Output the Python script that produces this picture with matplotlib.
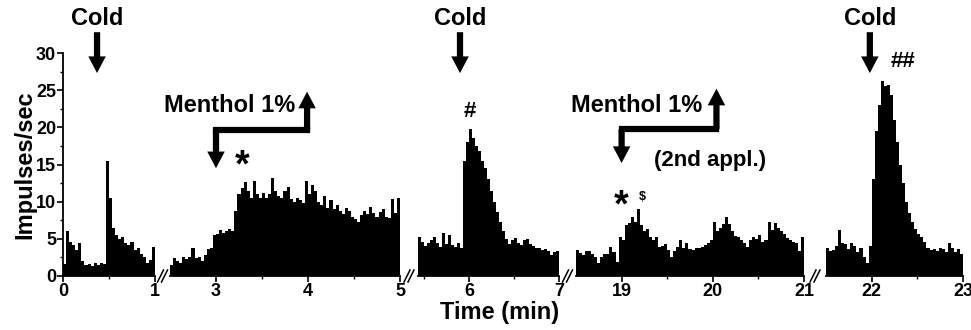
import numpy as np
import matplotlib.pyplot as plt
from matplotlib.lines import Line2D

plt.rcParams['font.family'] = ['Liberation Sans', 'DejaVu Sans']
plt.rcParams['font.weight'] = 'bold'

# firing rate histogram, 2 s bins (time in minutes)
bin_w = 1 / 30
seg_start = [0.0, 2.5, 5 + 13 / 30, 18.5, 21.5]
seg_end = [1, 5, 7, 21, 23]

rate_a = [1.6, 6.0, 4.6, 4.2, 3.5, 4.5, 2.0, 1.5, 1.6, 1.4, 1.8, 1.5, 1.7, 1.6, 15.5,
          10.5, 6.5, 5.5, 5.0, 5.2, 4.5, 4.2, 4.6, 3.5, 3.8, 3.0, 2.6, 1.8, 2.2, 3.9]
rate_b = [1.5, 2.4, 2.0, 1.7, 2.6, 2.3, 2.5, 3.8, 2.4, 2.6, 2.0, 2.8, 3.6, 3.7, 5.5,
          5.6, 6.2, 5.8, 6.0, 6.3, 6.0, 8.7, 11.0, 11.8, 12.7, 11.5, 10.5, 12.8, 11.0, 10.5,
          11.2, 10.5, 11.0, 13.2, 11.5, 10.8, 10.5, 11.5, 12.0, 10.3, 10.0, 10.5, 10.2, 9.8, 12.8,
          11.0, 12.3, 11.5, 10.0, 9.5, 10.8, 9.2, 10.2, 9.0, 9.5, 8.7, 8.4, 9.2, 8.7, 8.0,
          7.7, 7.3, 8.2, 8.8, 8.3, 9.3, 8.5, 8.0, 8.6, 9.0, 8.0, 7.8, 10.3, 8.5, 10.5]
rate_c = [5.2, 4.6, 4.0, 4.4, 4.8, 5.2, 4.4, 3.9, 5.8, 4.3, 5.5, 4.2, 3.9, 4.5, 3.8,
          15.5, 18.0, 19.8, 18.5, 17.5, 16.8, 15.5, 14.5, 13.0, 11.5, 10.0, 8.6, 7.2, 6.0, 5.0,
          4.3, 4.9, 5.1, 4.4, 4.2, 4.8, 5.0, 4.3, 4.0, 3.7, 3.8, 3.5, 3.6, 3.4, 2.8,
          3.2, 3.4]
rate_d = [3.5, 3.1, 2.8, 3.3, 3.4, 3.0, 2.6, 1.8, 2.5, 2.9, 3.0, 3.9, 3.2, 1.9, 5.3,
          4.8, 6.8, 7.1, 8.0, 7.2, 9.0, 6.8, 6.0, 6.3, 5.2, 4.8, 5.2, 3.9, 4.0, 4.3,
          3.5, 2.6, 3.3, 3.9, 4.8, 3.8, 4.4, 3.6, 3.5, 3.7, 3.8, 3.9, 4.2, 4.5, 4.8,
          7.2, 6.0, 6.4, 7.0, 8.0, 7.0, 6.0, 5.4, 5.2, 4.9, 4.4, 3.9, 4.8, 5.3, 5.0,
          5.5, 4.6, 4.8, 7.3, 6.2, 7.1, 6.4, 6.0, 5.7, 5.1, 4.9, 4.6, 4.4, 3.3, 5.3]
rate_e = [3.8, 3.4, 3.5, 4.0, 6.2, 4.5, 4.3, 3.6, 4.5, 4.0, 3.2, 3.8, 2.6, 1.8, 4.0,
          13.0, 19.5, 23.0, 26.3, 25.5, 25.7, 24.3, 21.0, 18.0, 15.0, 12.5, 10.0, 8.5, 7.3, 6.3,
          5.7, 5.3, 4.6, 3.8, 3.5, 3.6, 3.4, 3.7, 3.6, 3.2, 4.4, 3.7, 3.2, 3.6, 3.0]
rates = [rate_a, rate_b, rate_c, rate_d, rate_e]

major_ticks = [[0, 1], [3, 4, 5], [6, 7], [19, 20, 21], [22, 23]]
minor_ticks = [[0.5], [3.5, 4.5], [5.5, 6.5], [19.5, 20.5], [22.5]]

W, H = 971, 330
ax_px = [(63, 155), (170, 400), (418, 559), (576, 804), (826, 963)]
top_px, bot_px = 53, 276

fig = plt.figure(figsize=(W / 100, H / 100), dpi=100)
axes = []
for i in range(5):
    l, r = ax_px[i]
    ax = fig.add_axes([l / W, (H - bot_px) / H, (r - l) / W, (bot_px - top_px) / H])
    ax.patch.set_visible(False)
    edges = seg_start[i] + np.arange(len(rates[i]) + 1) * bin_w
    ax.stairs(rates[i], edges, fill=True, color='black', lw=0)
    ax.set_xlim(seg_start[i], seg_end[i])
    ax.set_ylim(0, 30)
    ax.set_xticks(major_ticks[i])
    ax.set_xticks(minor_ticks[i], minor=True)
    ax.spines[['top', 'right']].set_visible(False)
    ax.spines['bottom'].set_linewidth(1.3)
    ax.tick_params(axis='x', which='major', length=4, width=1.2, labelsize=13, pad=1)
    ax.tick_params(axis='x', which='minor', length=2.5, width=1.0)
    if i == 0:
        ax.set_yticks(range(0, 31, 5))
        ax.set_yticks(np.arange(2.5, 30, 5), minor=True)
        ax.spines['left'].set_linewidth(1.3)
        ax.tick_params(axis='y', which='major', length=4, width=1.2, labelsize=13, pad=1)
        ax.tick_params(axis='y', which='minor', length=2.5, width=1.0)
    else:
        ax.spines['left'].set_visible(False)
        ax.set_yticks([])
    axes.append(ax)

arrow_style = 'simple,head_length=0.4,head_width=0.42,tail_width=0.15'


def arrow(ax, x, y_from, y_to):
    ax.annotate('', xy=(x, y_to), xytext=(x, y_from), annotation_clip=False,
                arrowprops=dict(arrowstyle=arrow_style, mutation_scale=30,
                                fc='black', ec='none', shrinkA=0, shrinkB=0))


# cold stimuli
for ax, t in [(axes[0], 0.37), (axes[2], 5.9), (axes[4], 21.98)]:
    arrow(ax, t, 32.8, 27.3)
    ax.text(t, 34.7, 'Cold', ha='center', va='center', fontsize=17, clip_on=False)

# menthol brackets
for ax, t0, t1, yb, ydown, yup, tx in [(axes[1], 3.0, 3.99, 19.65, 14.5, 24.8, 3.15),
                                        (axes[3], 19.0, 20.04, 19.75, 15.2, 25.2, 19.16)]:
    ax.plot([t0, t1], [yb, yb], color='black', lw=4.5, solid_capstyle='projecting',
            clip_on=False)
    arrow(ax, t0, yb, ydown)
    arrow(ax, t1, yb, yup)
    ax.text(tx, 22.9, 'Menthol 1%', ha='center', va='center', fontsize=17, clip_on=False)

axes[1].text(3.28, 14.8, '*', ha='center', va='center', fontsize=27)
axes[3].text(19.0, 9.4, '*', ha='center', va='center', fontsize=27)
axes[3].text(19.23, 10.6, '$', ha='center', va='center', fontsize=9)
axes[3].text(19.97, 15.6, '(2nd appl.)', ha='center', va='center', fontsize=16)
axes[2].text(6.01, 22.1, '#', ha='center', va='center', fontsize=16)
axes[4].text(22.34, 28.8, '##', ha='center', va='center', fontsize=16)

# axis break marks
for i in range(4):
    xc = (ax_px[i][1] + ax_px[i + 1][0]) / 2
    for dx in (-2, 2):
        fig.add_artist(Line2D([(xc + dx - 3) / W, (xc + dx + 3) / W],
                              [(H - 282) / H, (H - 270) / H],
                              color='black', lw=1.1))

fig.text(25 / W, 1 - 165 / H, 'Impulses/sec', rotation=90, ha='center', va='center',
         fontsize=17)
fig.text(500 / W, 1 - 313 / H, 'Time (min)', ha='center', va='center', fontsize=17)

fig.savefig('out.png', dpi=100)
